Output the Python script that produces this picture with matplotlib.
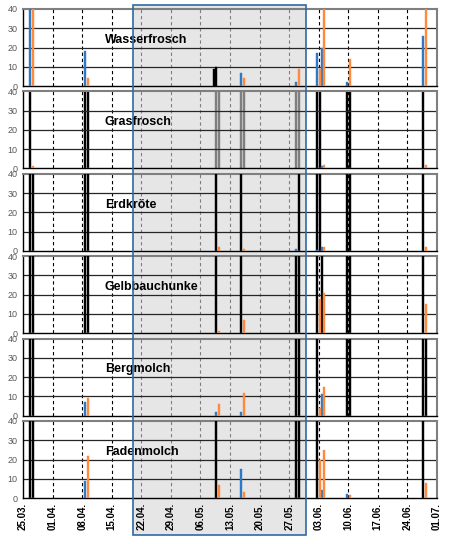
import datetime as dt
import matplotlib.pyplot as plt
from matplotlib.patches import Rectangle
from matplotlib.transforms import blended_transform_factory

plt.rcParams['font.family'] = ['Liberation Sans', 'DejaVu Sans']

species = ['Wasserfrosch', 'Grasfrosch', 'Erdkröte', 'Gelbbauchunke', 'Bergmolch', 'Fadenmolch']
dates = ['27.03.', '09.04.', '10.05.', '16.05.', '29.05.', '03.06.', '04.06.', '10.06.', '28.06.']

# counts per sampling date (blue / orange series)
blue_wasserfrosch = [40, 18, 0, 7, 2, 17, 20, 2, 26]
orange_wasserfrosch = [40, 4, 0, 4, 9, 9, 40, 14, 40]
black_wasserfrosch = [9, 10]          # the two black bars on 10.05.
blue_grasfrosch = [0, 0, 0, 0, 0, 0, 1.5, 0, 0]
orange_grasfrosch = [1.5, 0, 0, 0, 0, 0, 2, 0, 2]
blue_erdkroete = [0, 0, 0, 0, 1, 0.5, 2, 0, 0]
orange_erdkroete = [0, 0, 2, 1, 0, 0, 2, 0, 2]
blue_gelbbauchunke = [0, 0, 0, 0, 0, 0, 0, 0, 0]
orange_gelbbauchunke = [0, 0, 1, 7, 0, 18, 21, 0, 15]
blue_bergmolch = [0, 7, 2, 2, 0, 0, 11, 0, 0]
orange_bergmolch = [0, 9, 6, 12, 0, 4, 15, 0, 0]
blue_fadenmolch = [0, 9, 0, 15, 0, 0, 4, 2, 0]
orange_fadenmolch = [0, 22, 7, 3, 0, 20, 25, 1.5, 8]

# full-height black markers (1 = marker in blue slot / orange slot of that date)
mark_a_wasserfrosch = [0, 0, 0, 0, 0, 0, 0, 0, 0]
mark_b_wasserfrosch = [0, 0, 0, 0, 0, 0, 0, 0, 0]
mark_a_grasfrosch = [1, 1, 1, 1, 1, 1, 0, 1, 1]
mark_b_grasfrosch = [0, 1, 1, 1, 1, 1, 0, 1, 0]
mark_a_erdkroete = [1, 1, 1, 1, 0, 1, 0, 1, 1]
mark_b_erdkroete = [1, 1, 0, 0, 1, 1, 0, 1, 0]
mark_a_gelbbauchunke = [1, 1, 1, 1, 1, 1, 1, 1, 1]
mark_b_gelbbauchunke = [1, 1, 0, 0, 1, 0, 0, 1, 0]
mark_a_bergmolch = [1, 0, 0, 0, 1, 1, 0, 1, 1]
mark_b_bergmolch = [1, 0, 0, 0, 1, 0, 0, 1, 1]
mark_a_fadenmolch = [1, 0, 1, 0, 1, 1, 0, 0, 1]
mark_b_fadenmolch = [1, 0, 0, 0, 1, 0, 0, 0, 0]

tick_labels = ['25.03.', '01.04.', '08.04.', '15.04.', '22.04.', '29.04.', '06.05.',
               '13.05.', '20.05.', '27.05.', '03.06.', '10.06.', '17.06.', '24.06.', '01.07.']
window = ['20.04.', '31.05.']

blues = [blue_wasserfrosch, blue_grasfrosch, blue_erdkroete, blue_gelbbauchunke, blue_bergmolch, blue_fadenmolch]
oranges = [orange_wasserfrosch, orange_grasfrosch, orange_erdkroete, orange_gelbbauchunke, orange_bergmolch, orange_fadenmolch]
marks_a = [mark_a_wasserfrosch, mark_a_grasfrosch, mark_a_erdkroete, mark_a_gelbbauchunke, mark_a_bergmolch, mark_a_fadenmolch]
marks_b = [mark_b_wasserfrosch, mark_b_grasfrosch, mark_b_erdkroete, mark_b_gelbbauchunke, mark_b_bergmolch, mark_b_fadenmolch]

start = dt.date(2019, 3, 25)


def day(s):
    d, m = s.strip('.').split('.')
    return (dt.date(2019, int(m), int(d)) - start).days


x = [day(s) for s in dates]
ticks = [day(s) for s in tick_labels]
w0, w1 = day(window[0]), day(window[1])

BLUE = '#2f78c4'
ORANGE = '#ff8a3d'
off, bw = 0.3, 0.48

fig = plt.figure(figsize=(4.52, 5.44), dpi=100)
H = 544.0
axes = []
for i, name in enumerate(species):
    top = 9 + i * 82.4
    ax = fig.add_axes([23 / 452, 1 - (top + 77) / H, 414 / 452, 77 / H])
    ax.set_facecolor('none')
    axes.append(ax)

    for t in ticks[1:-1]:
        ax.axvline(t, color='black', lw=0.8, ls=(0, (3, 2.5)), zorder=1)
    ax.axvspan(w0, w1, color='#e6e6e6', alpha=0.556, lw=0, zorder=1.5)
    for yv in (10, 20, 30):
        ax.axhline(yv, color='#262626', lw=0.9, zorder=2)

    xa = [v - off for v in x]
    xb = [v + off for v in x]
    # Grasfrosch markers sit behind the shaded window
    mz = 1.2 if name == 'Grasfrosch' else 3
    ax.bar([p for p, m in zip(xa, marks_a[i]) if m], 40, width=bw, color='black',
           edgecolor='black', lw=0.3, zorder=mz)
    ax.bar([p for p, m in zip(xb, marks_b[i]) if m], 40, width=bw, color='black',
           edgecolor='black', lw=0.3, zorder=mz)
    ax.bar(xa, blues[i], width=bw, color=BLUE, edgecolor=BLUE, lw=0.3, zorder=3.5)
    ax.bar(xb, oranges[i], width=bw, color=ORANGE, edgecolor=ORANGE, lw=0.3, zorder=3.5)
    if name == 'Wasserfrosch':
        k = dates.index('10.05.')
        ax.bar([x[k] - 0.9, x[k] - 0.35], black_wasserfrosch, width=bw, color='black',
               edgecolor='black', lw=0.3, zorder=3.5)

    ax.text(19.4, 24, name, fontsize=9, fontweight='bold', va='center', zorder=5)

    ax.set_xlim(ticks[0], ticks[-1])
    ax.set_ylim(0, 40)
    ax.set_yticks([0, 10, 20, 30, 40])
    ax.tick_params(axis='y', length=0, labelsize=6.5, labelcolor='#595959', pad=4)
    ax.set_xticks(ticks)
    ax.tick_params(axis='x', length=0)
    if i < len(species) - 1:
        ax.tick_params(axis='x', labelbottom=False)
    else:
        ax.set_xticklabels(tick_labels, rotation=90, fontsize=7, fontweight='bold')
    for side in ('left', 'bottom'):
        ax.spines[side].set_color('black')
        ax.spines[side].set_linewidth(1.0)
    for side in ('top', 'right'):
        ax.spines[side].set_color('#7f7f7f')
        ax.spines[side].set_linewidth(1.5)

trans = blended_transform_factory(axes[-1].transData, fig.transFigure)
y0, y1 = 1 - 535 / H, 1 - 5 / H
fig.patches.append(Rectangle((w0, y0), w1 - w0, y1 - y0, transform=trans,
                             facecolor='#e6e6e6', edgecolor='none', zorder=-1))
fig.patches.append(Rectangle((w0, y0), w1 - w0, y1 - y0, transform=trans,
                             fill=False, edgecolor='#2f6aa6', lw=1.2, zorder=10))

fig.savefig('out.png', dpi=100)
